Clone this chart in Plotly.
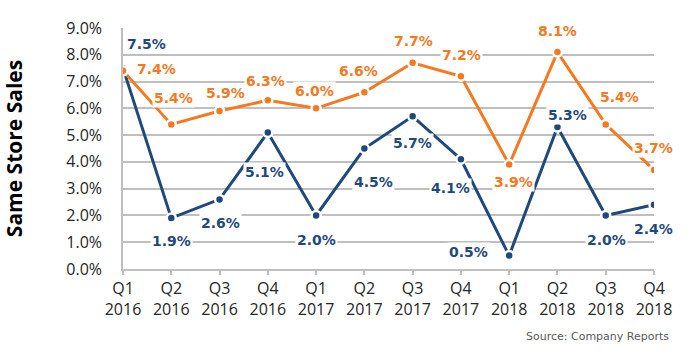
import plotly.graph_objects as go

quarters = ["Q1", "Q2", "Q3", "Q4"] * 3
years = ["2016"] * 4 + ["2017"] * 4 + ["2018"] * 4
categories = [f"{q}<br>{y}" for q, y in zip(quarters, years)]

navy_values = [7.5, 1.9, 2.6, 5.1, 2.0, 4.5, 5.7, 4.1, 0.5, 5.3, 2.0, 2.4]
orange_values = [7.4, 5.4, 5.9, 6.3, 6.0, 6.6, 7.7, 7.2, 3.9, 8.1, 5.4, 3.7]

y_ticks = [0, 1, 2, 3, 4, 5, 6, 7, 8, 9]
y_tick_labels = [f"{v:.1f}%" for v in y_ticks]

NAVY = "#1F497D"
ORANGE = "#F47920"

# label offsets in pixels (dx right, dy down)
navy_offsets = [(23, -24), (0, 23), (1, 24), (-3, 40), (0, 25), (9, 33),
                (0, 27), (-10, 29), (-41, -4), (10, -12), (1, 25), (-1, 24)]
orange_offsets = [(33, -2), (2, -26), (6, -18), (-2, -19), (-2, -17), (-6, -21),
                  (1, -22), (1, -21), (4, 17), (0, -21), (14, -27), (-1, -22)]

fig = go.Figure()
for vals, col in [(navy_values, NAVY), (orange_values, ORANGE)]:
    fig.add_trace(go.Scatter(
        x=categories, y=vals, mode="lines+markers",
        line=dict(color=col, width=3),
        marker=dict(color=col, size=9, line=dict(color="white", width=2.5)),
        showlegend=False, hoverinfo="skip"))

annotations = []
for vals, col, offs in [(navy_values, NAVY, navy_offsets), (orange_values, ORANGE, orange_offsets)]:
    for c, v, (dx, dy) in zip(categories, vals, offs):
        annotations.append(dict(
            x=c, y=v, xref="x", yref="y", text=f"{v:.1f}%", showarrow=False,
            xshift=dx, yshift=-dy, xanchor="center", yanchor="middle",
            bgcolor="white", borderpad=1,
            font=dict(family="DejaVu Sans", size=14, color=col, weight="bold")))

annotations.append(dict(
    x=1, y=0, xref="paper", yref="paper", xanchor="right", yanchor="middle",
    yshift=-67, xshift=17, text="Source: Company Reports", showarrow=False,
    font=dict(family="DejaVu Sans", size=11, color="#595959")))

fig.update_layout(
    width=700, height=356,
    margin=dict(l=120, r=46, t=28, b=87),
    paper_bgcolor="white", plot_bgcolor="white",
    font=dict(family="Open Sans", size=16, color="#262626"),
    annotations=annotations,
    xaxis=dict(type="category", range=[0, 11], showgrid=False,
               showline=True, linecolor="#BFBFBF", linewidth=1.5,
               ticks="outside", ticklen=4, tickcolor="#BFBFBF", tickwidth=1.5,
               tickfont=dict(size=16, color="#262626")),
    yaxis=dict(range=[0, 9], tickvals=y_ticks, ticktext=y_tick_labels,
               showgrid=True, gridcolor="#BFBFBF", gridwidth=1.5,
               showline=True, linecolor="#BFBFBF", linewidth=1.5,
               zeroline=False, ticks="", ticklabelstandoff=16,
               tickfont=dict(size=16, color="#262626"),
               title=dict(text="Same Store Sales", standoff=40,
                          font=dict(family="Open Sans", size=21, color="black", weight="bold"))),
)

fig.write_html("out.html", config={"displayModeBar": False},
               post_script="document.body.style.margin='0';")
